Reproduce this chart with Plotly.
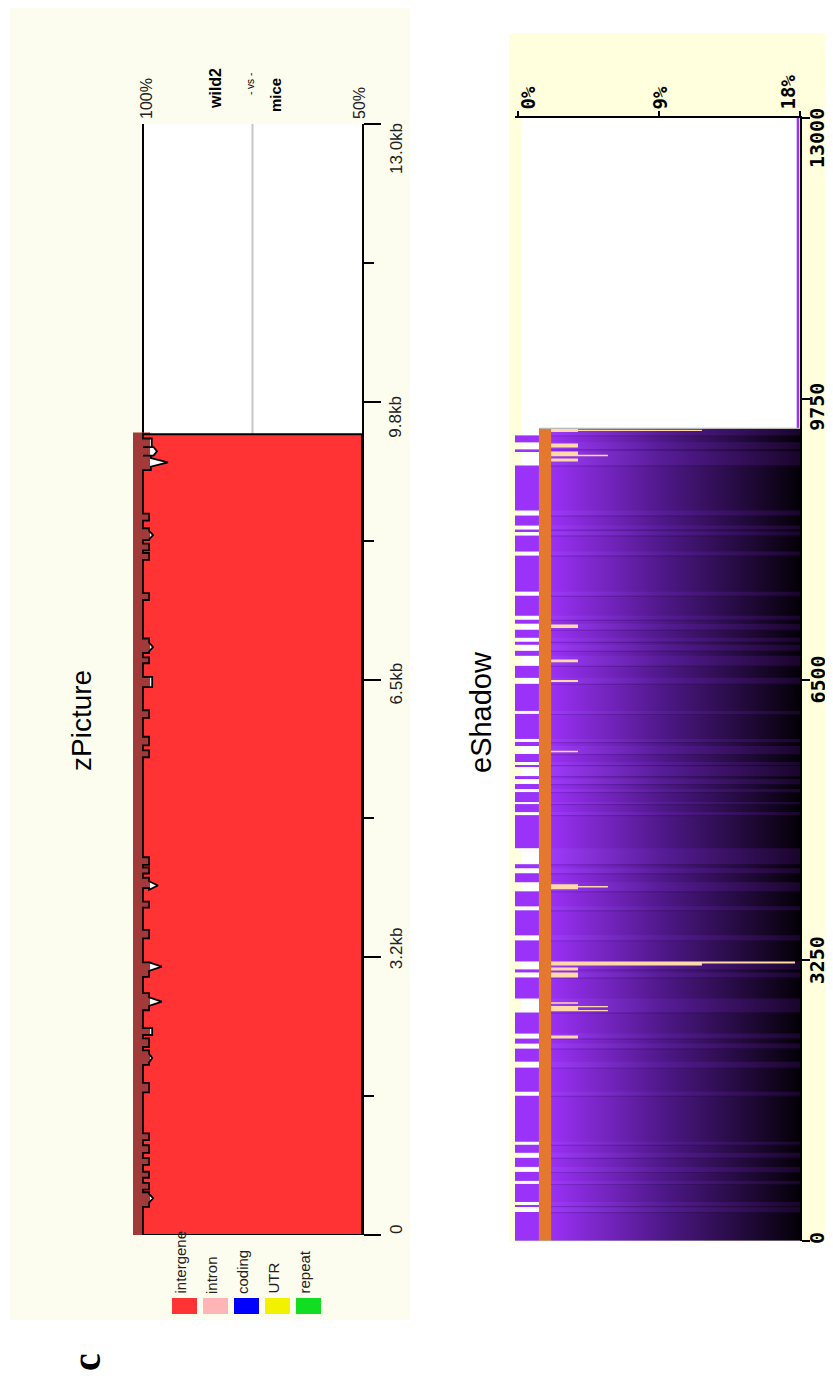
import plotly.graph_objects as go

# The page places the figure 8 px from the top-left corner of the window,
# so the figure is 8 px smaller and all pixel positions are shifted.
OFF = 8
W, H = 833 - OFF, 1382 - OFF


def px(x):
    return (x - OFF) / W


def py(y):
    return 1 - (y - OFF) / H


# ---------------- data: zPicture (position in kb, identity in %) ----------------
zp_pos_ticks = [0, 3.25, 6.5, 9.75, 13.0]
zp_pos_labels = ["0", "3.2kb", "6.5kb", "9.8kb", "13.0kb"]
zp_minor_ticks = [1.625, 4.875, 8.125, 11.375]
zp_identity_ticks = [100, 50]
zp_identity_labels = ["100%", "50%"]
zp_mid_identity = 75
zp_aligned_end = 9.37
zp_ecr_start = [0.0]
zp_ecr_end = [9.39]
zp_ecr_edge_pct = 98.4

zp_bump_start = [0.33, 0.53, 0.67, 0.82, 0.96, 1.11, 1.67, 1.99, 2.20, 2.34, 2.63,
                 3.02, 3.47, 3.83, 4.06, 4.23, 4.33, 5.59, 5.73, 6.05, 6.41, 6.69,
                 6.81, 7.43, 7.90, 8.01, 8.13, 8.36, 8.95, 9.12, 9.22]
zp_bump_end = [0.50, 0.61, 0.74, 0.90, 1.05, 1.19, 1.78, 2.16, 2.30, 2.42, 2.83,
               3.19, 3.57, 3.90, 4.18, 4.30, 4.42, 5.67, 5.83, 6.14, 6.53, 6.76,
               6.98, 7.51, 7.98, 8.09, 8.27, 8.44, 9.12, 9.22, 9.32]
zp_bump_pct = [98.6, 98.6, 98.6, 98.6, 98.6, 98.6, 98.6, 98.6, 98.6, 97.9, 98.6,
               98.6, 98.6, 98.6, 98.6, 98.6, 98.6, 98.6, 98.6, 98.6, 97.9, 98.6,
               98.6, 98.6, 98.6, 98.6, 98.6, 98.6, 98.2, 97.6, 98.0]
zp_spike_kb = [0.43, 2.07, 2.73, 3.14, 4.09, 6.88, 8.19, 9.04, 9.17]
zp_spike_pct = [97.7, 97.9, 95.7, 95.7, 96.6, 97.7, 97.7, 94.3, 96.8]

legend_labels = ["intergene", "intron", "coding", "UTR", "repeat"]
legend_colors = ["#FF3333", "#FFB5B5", "#0000FF", "#F2F200", "#11DD22"]

# ---------------- data: eShadow (position in bp, variation in %) ----------------
es_pos_ticks = [0, 3250, 6500, 9750, 13000]
es_pos_labels = ["0", "3250", "6500", "9750", "13000"]
es_pct_ticks = [0, 9, 18]
es_pct_labels = ["0%", "9%", "18%"]
es_aligned_end = 9408

es_block_start = [0, 394, 452, 696, 858, 1021, 1148, 1728, 2076, 2285, 2401, 2807,
                  3109, 3236, 3538, 3874, 4153, 4315, 4547, 4965, 5081, 5232, 5348,
                  5498, 5545, 5730, 5812, 6136, 6519, 6774, 6902, 6983, 7146, 7238,
                  7517, 7981, 8213, 8282, 8456, 9141, 9245]
es_block_end = [336, 406, 661, 800, 963, 1114, 1682, 2007, 2227, 2343, 2645, 3051,
                3144, 3480, 3828, 4048, 4257, 4362, 4930, 5058, 5197, 5290, 5382,
                5510, 5638, 5777, 6102, 6450, 6658, 6832, 6937, 7076, 7192, 7470,
                7934, 8166, 8236, 8398, 8978, 9164, 9326]

peach_pos = [9384, 9384, 9210, 9118, 9094, 9042, 7117, 6716, 6484, 5667, 4101,
             4101, 3213, 3225, 3149, 3080, 2755, 2691, 2714, 2668, 2361]
peach_width = [35, 17, 46, 40, 17, 35, 40, 30, 23, 17, 58,
               17, 46, 23, 35, 58, 17, 46, 15, 15, 35]
peach_end_pct = [3.83, 11.74, 3.83, 3.83, 5.74, 3.83, 3.83, 3.83, 3.83, 3.83, 3.83,
                 5.74, 11.74, 17.68, 3.83, 3.83, 3.83, 3.83, 5.74, 5.74, 3.83]

# ---------------- style constants ----------------
RED = "#FF3333"
BROWN = "#A23A3A"
PURPLE = "#9A32FA"
ORANGE = "#E5782F"
PEACH = "#FFD9A8"
ZP_BG = "#FDFDEF"
ES_BG = "#FFFFDE"
STRIP_L, STRIP_R, ORANGE_R, GRAD_R = -0.19, 1.34, 2.11, 18.0
ES_WHITE_L = 0.255

fig = go.Figure()

# ---------------- zPicture identity curve ----------------
cx, cy = [100.0], [0.0]
for s, e, d in zip(zp_bump_start, zp_bump_end, zp_bump_pct):
    cx += [100.0, d]
    cy += [s, s]
    for k, sp in zip(zp_spike_kb, zp_spike_pct):
        if s < k < e:
            cx += [d, sp, d]
            cy += [k - 0.05, k, k + 0.05]
    cx += [d, 100.0]
    cy += [e, e]
cx.append(100.0)
cy.append(zp_aligned_end)
poly_x = cx + [50, 50, 100]
poly_y = cy + [zp_aligned_end, 0, 0]

fig.add_trace(go.Scatter(
    x=poly_x, y=poly_y, xaxis="x", yaxis="y", mode="lines", fill="toself",
    fillcolor=RED, line=dict(color="black", width=1.8), hoverinfo="skip",
    showlegend=False))

# ---------------- eShadow ----------------
fig.add_trace(go.Bar(
    orientation="h", xaxis="x2", yaxis="y2",
    y=[(s + e) / 2 for s, e in zip(es_block_start, es_block_end)],
    width=[e - s for s, e in zip(es_block_start, es_block_end)],
    x=[STRIP_R - STRIP_L for _ in es_block_start], base=STRIP_L,
    marker=dict(color=PURPLE, line=dict(width=0)), hoverinfo="skip",
    showlegend=False))
fig.add_trace(go.Bar(
    orientation="h", xaxis="x2", yaxis="y2",
    y=[es_aligned_end / 2], width=[es_aligned_end], x=[ORANGE_R - STRIP_R],
    base=STRIP_R, marker=dict(color=ORANGE, line=dict(width=0)),
    hoverinfo="skip", showlegend=False))

fig.add_trace(go.Scatter(
    x=[ORANGE_R, GRAD_R, GRAD_R, ORANGE_R, ORANGE_R],
    y=[0, 0, es_aligned_end, es_aligned_end, 0],
    xaxis="x2", yaxis="y2", mode="none", fill="toself",
    fillgradient=dict(type="horizontal", start=ORANGE_R, stop=GRAD_R,
                      colorscale=[[0, "#9A30F5"], [0.45, "#4E1888"], [1, "#040007"]]),
    hoverinfo="skip", showlegend=False))


def rects(y0s, y1s, x0, x1s):
    xs, ys = [], []
    for a, b, xe in zip(y0s, y1s, x1s):
        xs += [x0, xe, xe, x0, x0, None]
        ys += [a, a, b, b, a, None]
    return xs, ys


gap_lo = es_block_end
gap_hi = es_block_start[1:] + [es_aligned_end]
bx, by = rects(gap_lo, gap_hi, ORANGE_R, [GRAD_R for _ in gap_lo])
fig.add_trace(go.Scatter(
    x=bx, y=by, xaxis="x2", yaxis="y2", mode="none", fill="toself",
    fillgradient=dict(type="horizontal", start=ORANGE_R, stop=GRAD_R,
                      colorscale=[[0, "#9E3AFA"], [0.45, "#561C96"], [1, "#1A052C"]]),
    hoverinfo="skip", showlegend=False))

dx, dy = rects([e - 14 for e in es_block_end], es_block_end, ORANGE_R,
               [GRAD_R for _ in es_block_end])
fig.add_trace(go.Scatter(
    x=dx, y=dy, xaxis="x2", yaxis="y2", mode="none", fill="toself",
    fillgradient=dict(type="horizontal", start=ORANGE_R, stop=GRAD_R,
                      colorscale=[[0, "#8228D8"], [0.45, "#421476"], [1, "#0A0214"]]),
    hoverinfo="skip", showlegend=False))

pxs, pys = rects([p - w / 2 for p, w in zip(peach_pos, peach_width)],
                 [p + w / 2 for p, w in zip(peach_pos, peach_width)],
                 ORANGE_R, peach_end_pct)
fig.add_trace(go.Scatter(
    x=pxs, y=pys, xaxis="x2", yaxis="y2", mode="none", fill="toself",
    fillcolor=PEACH, hoverinfo="skip", showlegend=False))

# ---------------- shapes ----------------
shapes = [
    dict(type="rect", xref="paper", yref="paper", x0=px(10), x1=px(410),
         y0=py(1320), y1=py(2), fillcolor=ZP_BG, line=dict(width=0), layer="below"),
    dict(type="rect", xref="paper", yref="paper", x0=px(509), x1=1.0,
         y0=py(1242), y1=py(33), fillcolor=ES_BG, line=dict(width=0), layer="below"),
    dict(type="rect", xref="x", yref="y", x0=zp_identity_ticks[0], x1=zp_identity_ticks[1],
         y0=0, y1=13, fillcolor="white", line=dict(width=0), layer="below"),
    dict(type="line", xref="x", yref="y", x0=zp_mid_identity, x1=zp_mid_identity,
         y0=0, y1=13, line=dict(color="#C8C8C8", width=2), layer="below"),
    dict(type="line", xref="x", yref="y", x0=100, x1=100, y0=0, y1=13,
         line=dict(color="black", width=2), layer="below"),
    dict(type="rect", xref="x2", yref="y2", x0=ES_WHITE_L, x1=GRAD_R, y0=0, y1=13000,
         fillcolor="white", line=dict(width=0), layer="below"),
    dict(type="line", xref="x2", yref="y2", x0=17.87, x1=17.87, y0=es_aligned_end,
         y1=13000, line=dict(color=PURPLE, width=2.5), layer="above"),
    dict(type="line", xref="x2", yref="y2", x0=1.4, x1=GRAD_R, y0=es_aligned_end,
         y1=es_aligned_end, line=dict(color="#B8B8B8", width=1.2), layer="above"),
    dict(type="line", xref="x2", yref="y2", x0=STRIP_L, x1=GRAD_R, y0=0, y1=0,
         line=dict(color="#B8B8B8", width=1.2), layer="above"),
]
for s, e in zip(zp_ecr_start, zp_ecr_end):
    shapes.append(dict(type="rect", xref="x", yref="y", x0=102.28, x1=zp_ecr_edge_pct,
                       y0=s, y1=e, fillcolor=BROWN, line=dict(width=0), layer="below"))
for i, c in enumerate(legend_colors):
    x0 = 172 + i * 31
    shapes.append(dict(type="rect", xref="paper", yref="paper", x0=px(x0), x1=px(x0 + 25),
                       y0=py(1314), y1=py(1298), fillcolor=c, line=dict(width=0),
                       layer="above"))

# ---------------- annotations ----------------
ann = []
SANS = "Liberation Sans, Arial, sans-serif"
MONO = "DejaVu Sans Mono, monospace"
SERIF = "Liberation Serif, DejaVu Serif, Times New Roman, serif"


def rot(text, x, y, size, family=SANS, color="#222222", xref="paper", yref="paper",
        yshift=0, yanchor="middle", xanchor="center"):
    ann.append(dict(text=text, x=x, y=y, xref=xref, yref=yref, showarrow=False,
                    textangle=-90, font=dict(size=size, family=family, color=color),
                    xanchor=xanchor, yanchor=yanchor, yshift=yshift))


zp_label_shift = [5, 9, -4, -15, -25]
for v, t, sh in zip(zp_pos_ticks, zp_pos_labels, zp_label_shift):
    rot(t, px(396), v, 17, xref="paper", yref="y", yshift=sh)

rot(zp_identity_labels[0], px(147), py(99), 16)
rot(zp_identity_labels[1], px(359), py(103), 16)
rot("<b>wild2</b>", px(216), py(89), 16, color="black")
rot("- vs -", px(251), py(84), 10, color="black")
rot("<b>mice</b>", px(276), py(95), 15, color="black")

for i, t in enumerate(legend_labels):
    rot(t, px(180 + i * 31), py(1296), 15, yanchor="bottom")

rot("zPicture", px(81), py(721), 28, color="black")
rot("eShadow", px(481), py(712), 29, color="black")
rot("<b>c</b>", px(86), py(1362), 40, family=SERIF, color="black")

es_label_shift = [3, 0, 0, -8, -20]
for v, t, sh in zip(es_pos_ticks, es_pos_labels, es_label_shift):
    rot("<b>" + t + "</b>", px(817), v, 20, family=MONO, color="black",
        xref="paper", yref="y2", yshift=sh)

es_pct_x = [528, 660, 788]
for xx, t in zip(es_pct_x, es_pct_labels):
    rot("<b>" + t + "</b>", px(xx), py(112), 19, family=MONO, color="black",
        yanchor="bottom")

fig.update_layout(
    width=W, height=H, margin=dict(l=0, r=0, t=0, b=0),
    paper_bgcolor="white", plot_bgcolor="rgba(0,0,0,0)",
    template="none", barmode="overlay", showlegend=False,
    shapes=shapes, annotations=ann,
    xaxis=dict(domain=[px(133), px(362)], range=[102.28, 50], visible=False,
               fixedrange=True),
    yaxis=dict(domain=[py(1235), py(124)], range=[0, 13], anchor="x", side="right",
               showline=True, linecolor="black", linewidth=2, ticks="outside",
               ticklen=17, tickwidth=1.5, tickcolor="black", tickvals=zp_pos_ticks,
               showticklabels=False, showgrid=False, zeroline=False,
               minor=dict(tickvals=zp_minor_ticks, ticks="outside", ticklen=10,
                          tickwidth=1.5, tickcolor="black", showgrid=False)),
    xaxis2=dict(domain=[px(515), px(800)], range=[STRIP_L, GRAD_R], anchor="y2",
                side="top", showline=True, linecolor="black", linewidth=1.5,
                ticks="outside", ticklen=5, tickwidth=1.5, tickcolor="black",
                tickvals=es_pct_ticks, showticklabels=False, showgrid=False,
                zeroline=False),
    yaxis2=dict(domain=[py(1241), py(118)], range=[0, 13000], anchor="x2",
                side="right", showline=True, linecolor="black", linewidth=1.5,
                ticks="outside", ticklen=8, tickwidth=1.5, tickcolor="black",
                tickvals=es_pos_ticks, showticklabels=False, showgrid=False,
                zeroline=False),
)

fig.write_html("out.html")
